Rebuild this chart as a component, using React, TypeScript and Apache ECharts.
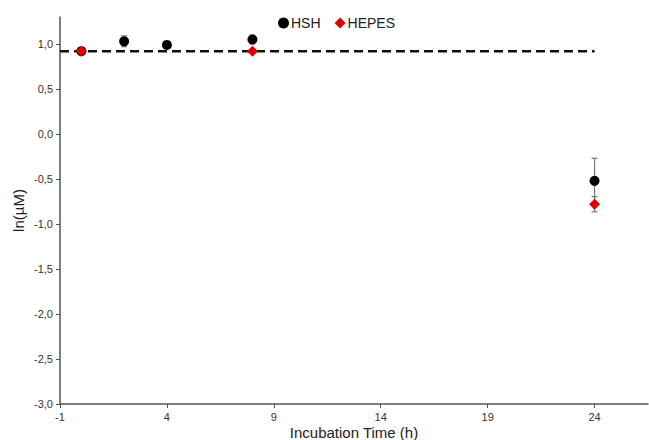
import React, { useEffect, useRef } from "react";
import * as echarts from "echarts";

const xTicks = [-1, 4, 9, 14, 19, 24];
const yTicks = [-3, -2.5, -2, -1.5, -1, -0.5, 0, 0.5, 1];

// [time, mean, sd]
const hshData = [
  [0, 0.92, 0.02],
  [2, 1.03, 0.06],
  [4, 0.99, 0.03],
  [8, 1.05, 0.05],
  [24, -0.52, 0.25],
];
const hepesData = [
  [0, 0.92, 0.01],
  [8, 0.92, 0.01],
  [24, -0.78, 0.085],
];
const refLine = [
  [-1, 0.92],
  [24, 0.92],
];

const FONT = "Liberation Sans, Arial, sans-serif";

function errorSeries(data: number[][], z: number) {
  return {
    type: "custom",
    z,
    silent: true,
    data: data.map((d) => [d[0], d[1] - d[2], d[1] + d[2]]),
    renderItem: (params: any, api: any) => {
      const x = api.value(0);
      const lo = api.coord([x, api.value(1)]);
      const hi = api.coord([x, api.value(2)]);
      const w = 3;
      const style = { stroke: "#777", lineWidth: 1.2 };
      return {
        type: "group",
        children: [
          { type: "line", shape: { x1: lo[0], y1: lo[1], x2: hi[0], y2: hi[1] }, style },
          { type: "line", shape: { x1: lo[0] - w, y1: lo[1], x2: lo[0] + w, y2: lo[1] }, style },
          { type: "line", shape: { x1: hi[0] - w, y1: hi[1], x2: hi[0] + w, y2: hi[1] }, style },
        ],
      };
    },
  };
}

const fmt = (v: number) => v.toFixed(1).replace(".", ",");

export default function App() {
  const ref = useRef<HTMLDivElement>(null);
  useEffect(() => {
    document.body.style.margin = "0";
    if (!ref.current) return;
    const chart = echarts.init(ref.current, undefined, { renderer: "svg" });
    chart.setOption({
      animation: false,
      backgroundColor: "#fff",
      textStyle: { fontFamily: FONT },
      grid: { left: 60, right: 1, top: 17, bottom: 36, outerBoundsMode: "none", containLabel: false },
      legend: {
        top: 11,
        left: 273,
        itemGap: 14,
        itemWidth: 11,
        itemHeight: 11,
        textStyle: { fontSize: 14, color: "#222", fontFamily: FONT, padding: [0, 0, 0, -3] },
        data: [
          { name: "HSH", icon: "circle" },
          { name: "HEPES", icon: "diamond" },
        ],
      },
      xAxis: {
        type: "value",
        min: -1,
        max: 26.5,
        name: "Incubation Time (h)",
        nameLocation: "middle",
        nameGap: 20,
        nameMoveOverlap: false,
        nameTextStyle: { fontSize: 15, color: "#222", fontFamily: FONT, lineHeight: 16 },
        axisLine: { onZero: false, lineStyle: { color: "#555", width: 1.5 } },
        axisTick: { show: true, customValues: xTicks, length: 4, lineStyle: { color: "#555" } },
        axisLabel: {
          customValues: xTicks,
          fontSize: 11,
          color: "#333",
          fontFamily: FONT,
          margin: 7,
          formatter: (v: number) => String(v),
        },
        splitLine: { show: false },
      },
      yAxis: {
        type: "value",
        min: -3,
        max: 1.3,
        name: "ln(µM)",
        nameLocation: "middle",
        nameGap: 34,
        nameMoveOverlap: false,
        nameTextStyle: { fontSize: 15, color: "#222", fontFamily: FONT, lineHeight: 16 },
        axisLine: { show: true, onZero: false, lineStyle: { color: "#555", width: 1.5 } },
        axisTick: { show: true, customValues: yTicks, length: 4, lineStyle: { color: "#555" } },
        axisLabel: {
          customValues: yTicks,
          fontSize: 11,
          color: "#333",
          fontFamily: FONT,
          margin: 7,
          formatter: (v: number) => fmt(v),
        },
        splitLine: { show: false },
      },
      series: [
        {
          type: "line",
          name: "ref",
          data: refLine,
          symbol: "none",
          silent: true,
          z: 1,
          lineStyle: { color: "#111", width: 2.5, type: [9, 5] },
        },
        errorSeries(hshData, 2),
        errorSeries(hepesData, 2),
        {
          type: "scatter",
          name: "HSH",
          data: hshData.map((d) => [d[0], d[1]]),
          symbol: "circle",
          symbolSize: 10,
          z: 3,
          itemStyle: { color: "#000", opacity: 1 },
        },
        {
          type: "scatter",
          name: "HEPES",
          data: hepesData.map((d) => [d[0], d[1]]),
          symbol: "diamond",
          symbolSize: 11,
          z: 4,
          itemStyle: { color: "#e00000", opacity: 1 },
        },
      ],
    });
    return () => chart.dispose();
  }, []);
  return <div ref={ref} style={{ width: 649, height: 440 }} />;
}
